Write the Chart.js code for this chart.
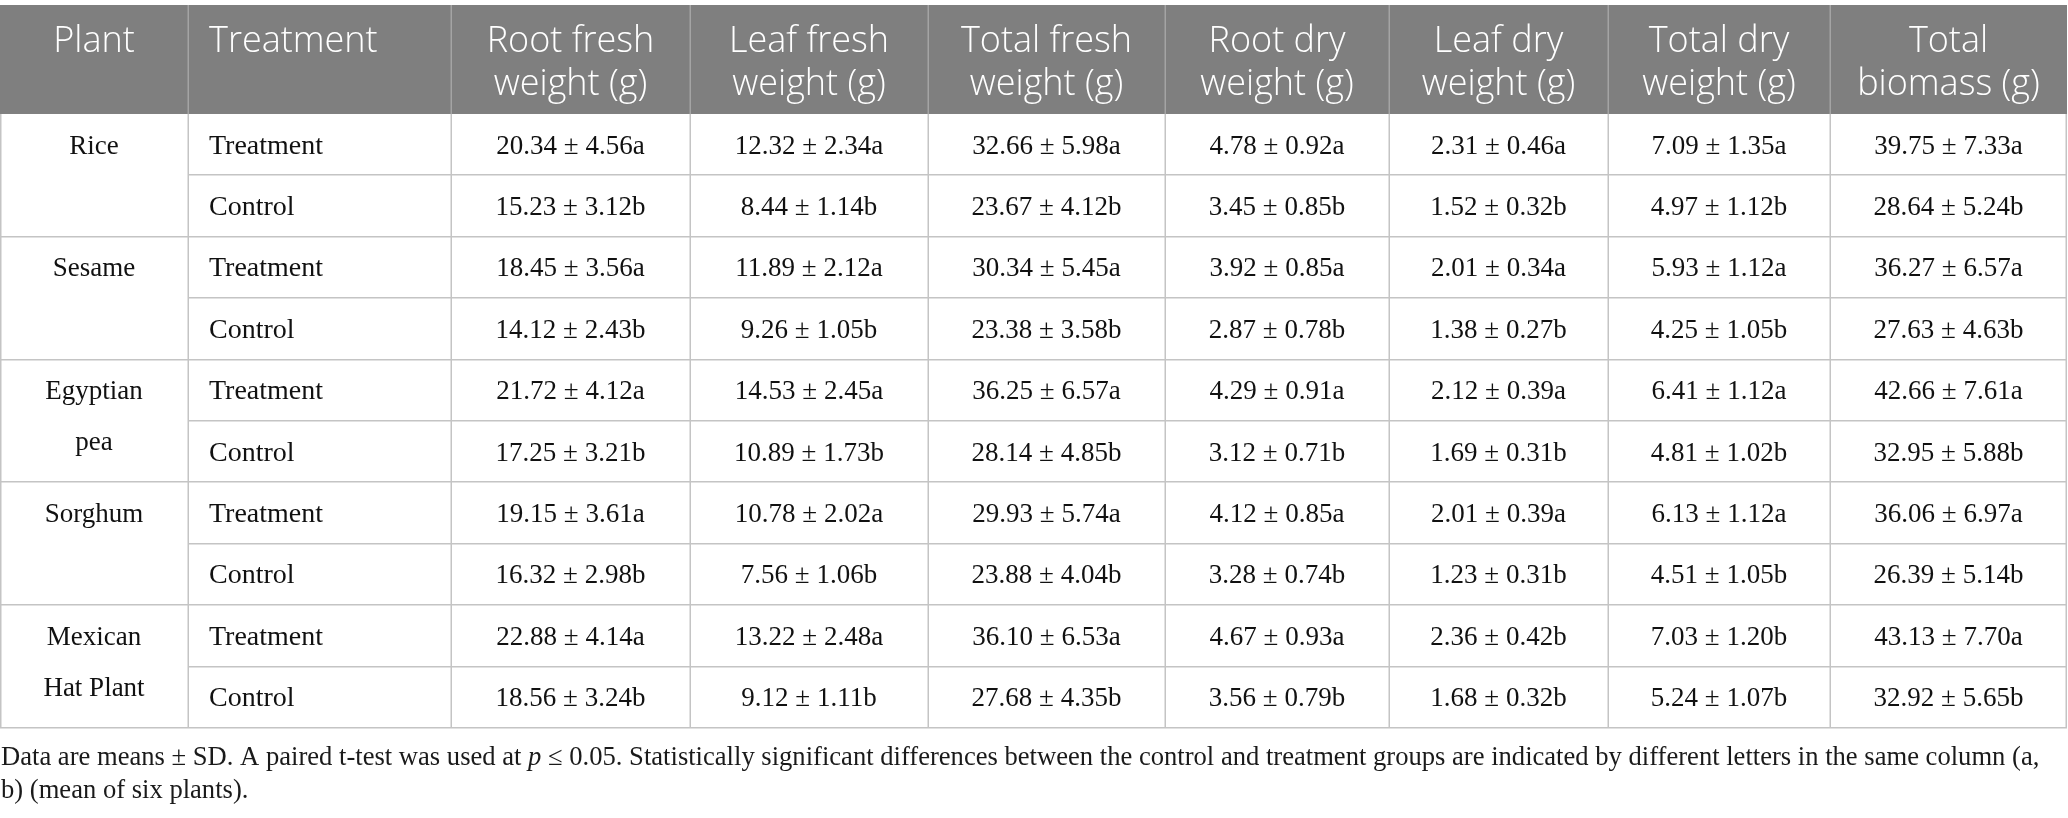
<!DOCTYPE html>
<html><head><meta charset="utf-8">
<script src="https://cdn.jsdelivr.net/npm/chart.js@4.4.1/dist/chart.umd.min.js"></script>
<style>html,body{margin:0;padding:0;background:#fff;overflow:hidden}canvas{display:block}</style>
</head><body>
<canvas id="c" width="2068" height="818"></canvas>
<script>
// ---------- data ----------
const plants = [["Rice"], ["Sesame"], ["Egyptian", "pea"], ["Sorghum"], ["Mexican", "Hat Plant"]];
const treatments = ["Treatment", "Control"];
const headers = [["Plant"], ["Treatment"], ["Root fresh", "weight (g)"], ["Leaf fresh", "weight (g)"],
  ["Total fresh", "weight (g)"], ["Root dry", "weight (g)"], ["Leaf dry", "weight (g)"],
  ["Total dry", "weight (g)"], ["Total", "biomass (g)"]];

const rootFreshMean = [20.34, 15.23, 18.45, 14.12, 21.72, 17.25, 19.15, 16.32, 22.88, 18.56];
const rootFreshSD   = [4.56, 3.12, 3.56, 2.43, 4.12, 3.21, 3.61, 2.98, 4.14, 3.24];
const rootFreshLet  = ["a","b","a","b","a","b","a","b","a","b"];

const leafFreshMean = [12.32, 8.44, 11.89, 9.26, 14.53, 10.89, 10.78, 7.56, 13.22, 9.12];
const leafFreshSD   = [2.34, 1.14, 2.12, 1.05, 2.45, 1.73, 2.02, 1.06, 2.48, 1.11];
const leafFreshLet  = ["a","b","a","b","a","b","a","b","a","b"];

const totalFreshMean = [32.66, 23.67, 30.34, 23.38, 36.25, 28.14, 29.93, 23.88, 36.10, 27.68];
const totalFreshSD   = [5.98, 4.12, 5.45, 3.58, 6.57, 4.85, 5.74, 4.04, 6.53, 4.35];
const totalFreshLet  = ["a","b","a","b","a","b","a","b","a","b"];

const rootDryMean = [4.78, 3.45, 3.92, 2.87, 4.29, 3.12, 4.12, 3.28, 4.67, 3.56];
const rootDrySD   = [0.92, 0.85, 0.85, 0.78, 0.91, 0.71, 0.85, 0.74, 0.93, 0.79];
const rootDryLet  = ["a","b","a","b","a","b","a","b","a","b"];

const leafDryMean = [2.31, 1.52, 2.01, 1.38, 2.12, 1.69, 2.01, 1.23, 2.36, 1.68];
const leafDrySD   = [0.46, 0.32, 0.34, 0.27, 0.39, 0.31, 0.39, 0.31, 0.42, 0.32];
const leafDryLet  = ["a","b","a","b","a","b","a","b","b","b"];

const totalDryMean = [7.09, 4.97, 5.93, 4.25, 6.41, 4.81, 6.13, 4.51, 7.03, 5.24];
const totalDrySD   = [1.35, 1.12, 1.12, 1.05, 1.12, 1.02, 1.12, 1.05, 1.20, 1.07];
const totalDryLet  = ["a","b","a","b","a","b","a","b","b","b"];

const biomassMean = [39.75, 28.64, 36.27, 27.63, 42.66, 32.95, 36.06, 26.39, 43.13, 32.92];
const biomassSD   = [7.33, 5.24, 6.57, 4.63, 7.61, 5.88, 6.97, 5.14, 7.70, 5.65];
const biomassLet  = ["a","b","a","b","a","b","a","b","a","b"];

const footnoteLine1 = [
  ["Data are means ± SD. A paired t-test was used at ", false],
  ["p", true],
  [" ≤ 0.05. Statistically significant differences between the control and treatment groups are indicated by different letters in the same column (a,", false]
];
const footnoteLine2 = "b) (mean of six plants).";

// ---------- layout (not data) ----------
const columnWidths = [188, 263, 239, 238, 237, 224, 219, 222, 237];
const HEADER_UNITS = 1.775;
const NROWS = 10;

const valueColumns = [
  [rootFreshMean, rootFreshSD, rootFreshLet],
  [leafFreshMean, leafFreshSD, leafFreshLet],
  [totalFreshMean, totalFreshSD, totalFreshLet],
  [rootDryMean, rootDrySD, rootDryLet],
  [leafDryMean, leafDrySD, leafDryLet],
  [totalDryMean, totalDrySD, totalDryLet],
  [biomassMean, biomassSD, biomassLet]
];

const edges = [0];
columnWidths.forEach(w => edges.push(edges[edges.length - 1] + w));
const totalW = edges[edges.length - 1];

const datasets = valueColumns.map((col, ci) => {
  const c = ci + 2;
  return {
    label: headers[c].join(" "),
    data: col[0].map((m, r) => ({
      x: (edges[c] + edges[c + 1]) / 2,
      y: HEADER_UNITS + r + 0.5,
      text: m.toFixed(2) + " ± " + col[1][r].toFixed(2) + col[2][r]
    })),
    pointRadius: 0,
    pointHoverRadius: 0,
    showLine: false
  };
});

const BODY_FONT = '27px "Liberation Serif", "Times New Roman", serif';
const LABEL_FONT = '28px "Liberation Serif", "Times New Roman", serif';
const NOTE_FONT = '26.6px "Liberation Serif", "Times New Roman", serif';
const HEAD_FONT = '300 36px "Open Sans", "Noto Sans", sans-serif';

const tablePlugin = {
  id: 'tablePlugin',
  beforeDatasetsDraw(chart) {
    const ctx = chart.ctx;
    const xs = chart.scales.x, ys = chart.scales.y;
    const X = v => xs.getPixelForValue(v);
    const Y = v => ys.getPixelForValue(v);
    ctx.save();
    // header background
    const hTop = Y(0), hBot = Y(HEADER_UNITS);
    ctx.fillStyle = '#7f7f7f';
    ctx.fillRect(X(0), hTop, X(totalW) - X(0), hBot - hTop);
    // header separators
    ctx.strokeStyle = '#a4a4a4';
    ctx.lineWidth = 1.5;
    for (let i = 1; i < edges.length - 1; i++) {
      const px = Math.round(X(edges[i])) + 0.25;
      ctx.beginPath(); ctx.moveTo(px, hTop); ctx.lineTo(px, hBot); ctx.stroke();
    }
    // header text
    ctx.fillStyle = '#ffffff';
    ctx.font = HEAD_FONT;
    ctx.textBaseline = 'alphabetic';
    headers.forEach((lines, c) => {
      lines.forEach((t, li) => {
        const base = hTop + 47 + li * 43;
        if (c === 1) { ctx.textAlign = 'left'; ctx.fillText(t, X(edges[c]) + 21, base); }
        else { ctx.textAlign = 'center'; ctx.fillText(t, (X(edges[c]) + X(edges[c + 1])) / 2, base); }
      });
    });
    // body grid
    ctx.strokeStyle = '#c4c4c4';
    ctx.lineWidth = 1.5;
    for (let r = 1; r <= NROWS; r++) {
      const py = Math.round(Y(HEADER_UNITS + r)) - 0.25;
      const x0 = (r % 2 === 1) ? X(edges[1]) : X(0);
      ctx.beginPath(); ctx.moveTo(x0, py); ctx.lineTo(X(totalW), py); ctx.stroke();
    }
    for (let i = 0; i < edges.length; i++) {
      let px = Math.round(X(edges[i])) + 0.25;
      if (i === 0) px = 0.75;
      if (i === edges.length - 1) px = X(totalW) - 0.75;
      ctx.beginPath(); ctx.moveTo(px, hBot); ctx.lineTo(px, Y(HEADER_UNITS + NROWS)); ctx.stroke();
    }
    // plant and treatment labels
    ctx.fillStyle = '#111111';
    ctx.font = BODY_FONT;
    plants.forEach((lines, g) => {
      lines.forEach((t, li) => {
        ctx.textAlign = 'center';
        ctx.fillText(t, (X(edges[0]) + X(edges[1])) / 2, Y(HEADER_UNITS + 2 * g + 0.5) + 9 + li * 51);
      });
    });
    ctx.font = LABEL_FONT;
    plants.forEach((lines, g) => {
      treatments.forEach((t, k) => {
        ctx.textAlign = 'left';
        ctx.fillText(t, X(edges[1]) + 21, Y(HEADER_UNITS + 2 * g + k + 0.5) + 9);
      });
    });
    // value cells, positioned by the dataset elements
    ctx.font = BODY_FONT;
    ctx.textAlign = 'center';
    chart.data.datasets.forEach((ds, di) => {
      const meta = chart.getDatasetMeta(di);
      meta.data.forEach((el, i) => {
        ctx.fillText(ds.data[i].text, el.x, el.y + 9);
      });
    });
    ctx.restore();
  },
  afterDraw(chart) {
    const ctx = chart.ctx;
    const a = chart.chartArea;
    ctx.save();
    ctx.fillStyle = '#1a1a1a';
    ctx.textAlign = 'left';
    ctx.textBaseline = 'alphabetic';
    let x = 1;
    const b1 = a.bottom + 37;
    footnoteLine1.forEach(([t, it]) => {
      ctx.font = (it ? 'italic ' : '') + NOTE_FONT;
      ctx.fillText(t, x, b1);
      x += ctx.measureText(t).width;
    });
    ctx.font = NOTE_FONT;
    ctx.fillText(footnoteLine2, 1, b1 + 33);
    ctx.restore();
  }
};

new Chart(document.getElementById('c'), {
  type: 'scatter',
  data: { datasets },
  options: {
    responsive: false,
    devicePixelRatio: 1,
    animation: false,
    events: [],
    layout: { padding: { left: 0, right: 1, top: 5, bottom: 90 } },
    plugins: { legend: { display: false }, tooltip: { enabled: false }, title: { display: false } },
    scales: {
      x: { type: 'linear', min: 0, max: totalW, display: false },
      y: { type: 'linear', min: 0, max: HEADER_UNITS + NROWS, reverse: true, display: false }
    }
  },
  plugins: [tablePlugin]
});
</script>
</body></html>
